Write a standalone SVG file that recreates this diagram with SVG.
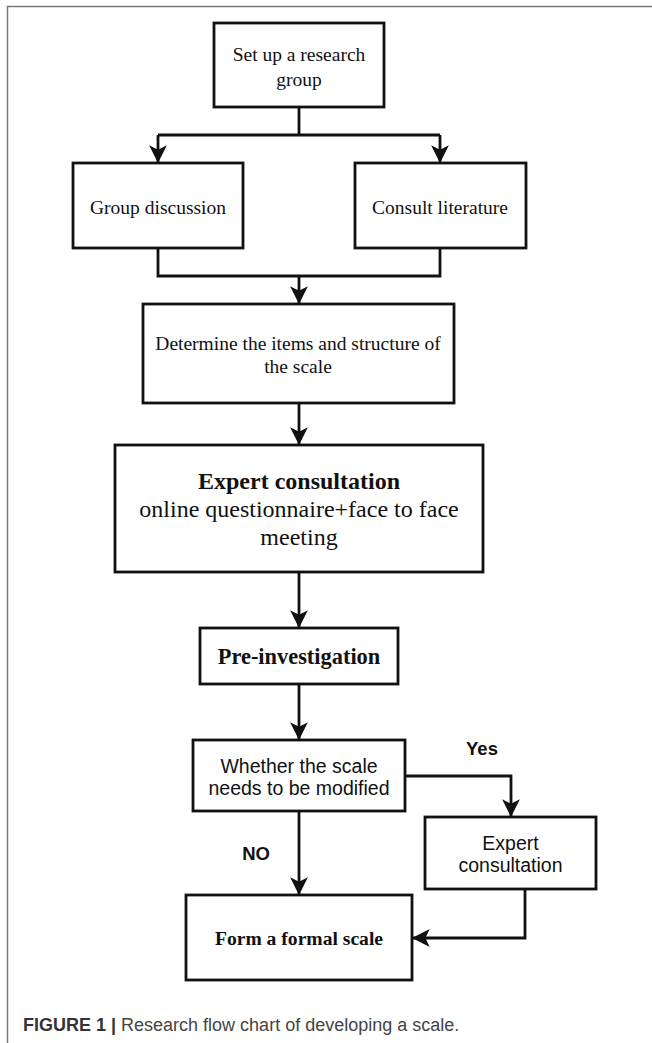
<svg xmlns="http://www.w3.org/2000/svg" width="652" height="1043" viewBox="0 0 652 1043">
<style>
.box{fill:#fff;stroke:#111;stroke-width:2.8}
.ln{fill:none;stroke:#111;stroke-width:2.8}
.serif{font-family:"Liberation Serif","Times New Roman",serif;fill:#111;text-anchor:middle}
.sans{font-family:"Liberation Sans",Arial,sans-serif;fill:#111;text-anchor:middle}
.frame{fill:none;stroke:#7a7a7a;stroke-width:1.5}
</style>
<defs>
<marker id="arr" markerUnits="userSpaceOnUse" markerWidth="20" markerHeight="20" viewBox="-17 -9 18 18" refX="0" refY="0" orient="auto">
<path d="M-16,-8 L0,0 L-16,8 L-12,0 Z" fill="#111"/>
</marker>
</defs>
<path class="frame" d="M7.5,1043 V6.5 H652"/>
<g id="connectors">
<path class="ln" d="M299,107 V135 M158,135 H440"/>
<path class="ln" d="M158,135 V163" marker-end="url(#arr)"/>
<path class="ln" d="M440,135 V163" marker-end="url(#arr)"/>
<path class="ln" d="M158,248 V276 H440 V248"/>
<path class="ln" d="M299,276 V304" marker-end="url(#arr)"/>
<path class="ln" d="M299,403 V445" marker-end="url(#arr)"/>
<path class="ln" d="M299,572 V628" marker-end="url(#arr)"/>
<path class="ln" d="M299,684 V740" marker-end="url(#arr)"/>
<path class="ln" d="M405,776 H511 V817" marker-end="url(#arr)"/>
<path class="ln" d="M299,811 V895" marker-end="url(#arr)"/>
<path class="ln" d="M525,889 V938 H412" marker-end="url(#arr)"/>
<text class="sans" x="482" y="755" font-size="18.5" font-weight="bold">Yes</text>
<text class="sans" x="256" y="860" font-size="18.5" font-weight="bold">NO</text>
</g>
<g id="n1">
<rect class="box" x="214" y="23" width="170" height="84"/>
<text class="serif" x="299" y="61" font-size="19.5">Set up a research</text>
<text class="serif" x="299" y="86" font-size="19.5">group</text>
</g>
<g id="n2">
<rect class="box" x="73" y="163" width="170" height="85"/>
<text class="serif" x="158" y="214" font-size="19.5">Group discussion</text>
</g>
<g id="n3">
<rect class="box" x="355" y="163" width="171" height="85"/>
<text class="serif" x="440" y="214" font-size="19.5">Consult literature</text>
</g>
<g id="n4">
<rect class="box" x="143" y="304" width="311" height="99"/>
<text class="serif" x="298" y="350" font-size="19.5">Determine the items and structure of</text>
<text class="serif" x="298" y="373" font-size="19.5">the scale</text>
</g>
<g id="n5">
<rect class="box" x="115" y="445" width="368" height="127"/>
<text class="serif" x="299" y="489" font-size="24" font-weight="bold">Expert consultation</text>
<text class="serif" x="299" y="517" font-size="24">online questionnaire+face to face</text>
<text class="serif" x="299" y="545" font-size="24">meeting</text>
</g>
<g id="n6">
<rect class="box" x="200" y="628" width="198" height="56"/>
<text class="serif" x="299" y="664" font-size="22.4" font-weight="bold">Pre-investigation</text>
</g>
<g id="n7">
<rect class="box" x="193" y="740" width="212" height="71"/>
<text class="sans" x="299" y="773" font-size="19.5">Whether the scale</text>
<text class="sans" x="299" y="795" font-size="19.5">needs to be modified</text>
</g>
<g id="n8">
<rect class="box" x="425" y="817" width="171" height="72"/>
<text class="sans" x="510.5" y="850" font-size="19.5">Expert</text>
<text class="sans" x="510.5" y="872" font-size="19.5">consultation</text>
</g>
<g id="n9">
<rect class="box" x="186" y="895" width="226" height="85"/>
<text class="serif" x="299" y="945" font-size="19.6" font-weight="bold">Form a formal scale</text>
</g>
<text x="23" y="1031" font-family="'Liberation Sans',Arial,sans-serif" font-size="18" fill="#444"><tspan font-weight="bold" fill="#333">FIGURE 1 |</tspan> Research flow chart of developing a scale.</text>
</svg>
